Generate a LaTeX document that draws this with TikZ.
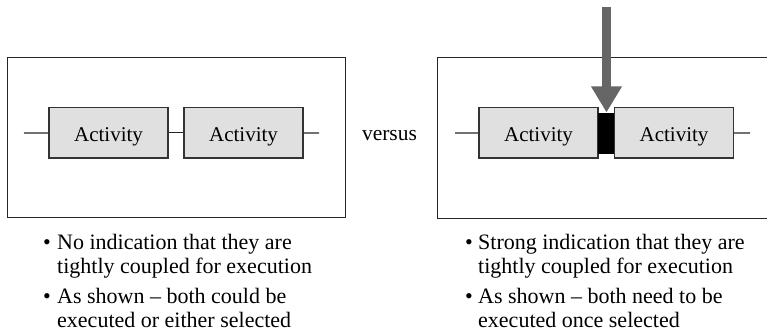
\documentclass[tikz,border=0pt]{standalone}
\usepackage{fontspec}
\setmainfont{Liberation Serif}
\usetikzlibrary{arrows.meta}
\definecolor{actfill}{HTML}{E0E0E0}
\definecolor{actline}{HTML}{333333}
\definecolor{pointer}{HTML}{666666}
\begin{document}
\begin{tikzpicture}[x=1pt,y=-1pt,
  frame/.style={draw=black!85, line width=1.2pt, rectangle, inner sep=0pt, anchor=north west},
  activity/.style={draw=actline, fill=actfill, line width=1.4pt, inner xsep=0pt, inner ysep=0pt,
    minimum width=119pt, text height=34pt, text depth=16.5pt, anchor=base,
    font=\fontsize{21}{24}\selectfont},
  coupler/.style={fill=black, draw=black, line width=1pt, inner sep=0pt,
    minimum width=17pt, minimum height=40pt},
  wire/.style={draw=black!85, line width=1.3pt},
  note/.style={anchor=base west, inner sep=0pt, font=\fontsize{22}{24}\selectfont},
  pointer/.style={draw=pointer, line width=9pt, -{Triangle[width=29pt,length=26pt]}}]
\useasboundingbox (0,0) rectangle (767,334);
\clip (0,0) rectangle (767,334);

% left panel: two independent activities
\node[frame, minimum width=338pt, minimum height=160pt] (frameL) at (7,57) {};
\node[activity] (actL1) at (108.5,141.5) {Activity};
\node[activity] (actL2) at (243.5,141.5) {Activity};
\coordinate (inL) at (24,133);
\coordinate (outL) at (319,133);
\draw[wire] (inL) -- (actL1);
\draw[wire] (actL1) -- (actL2);
\draw[wire] (actL2) -- (outL);

\node[anchor=base, inner sep=0pt, font=\fontsize{21.5}{24}\selectfont] (vs) at (389.5,140) {versus};

% right panel: activities joined by a coupling block
\node[frame, minimum width=340pt, minimum height=161pt] (frameR) at (437,57) {};
\node[activity] (actR1) at (538.5,141.5) {Activity};
\node[coupler] (link) at (606.5,133) {};
\node[activity] (actR2) at (674,141.5) {Activity};
\coordinate (inR) at (455,133);
\coordinate (outR) at (750,133);
\draw[wire] (inR) -- (actR1);
\draw[wire] (actR2) -- (outR);
\coordinate (src) at (606.5,7);
\draw[pointer] (src) -- (link);

% notes under the left panel
\node[note] (bL1) at (43,249) {•};
\node[note] (nL1) at (57,249) {No indication that they are};
\node[note] (nL2) at (57,273) {tightly coupled for execution};
\node[note] (bL2) at (43,303) {•};
\node[note] (nL3) at (57,303) {As shown – both could be};
\node[note] (nL4) at (57,327) {executed or either selected};

% notes under the right panel
\node[note] (bR1) at (465,249) {•};
\node[note] (nR1) at (478,249) {Strong indication that they are};
\node[note] (nR2) at (478,273) {tightly coupled for execution};
\node[note] (bR2) at (465,303) {•};
\node[note] (nR3) at (478,303) {As shown – both need to be};
\node[note] (nR4) at (478,327) {executed once selected};
\end{tikzpicture}
\end{document}
